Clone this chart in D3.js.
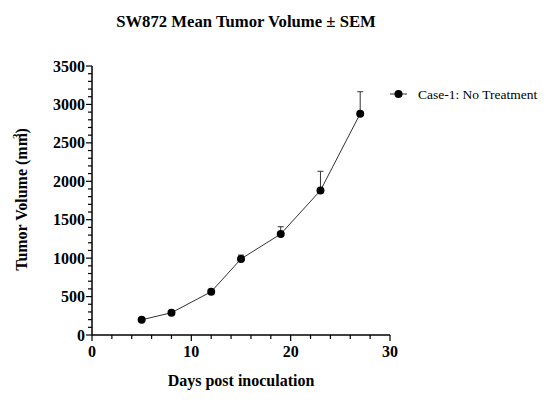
<!DOCTYPE html>
<html>
<head>
<meta charset="utf-8">
<script src="https://cdn.jsdelivr.net/npm/d3@7"></script>
<style>
  body { margin: 0; background: #fff; }
</style>
</head>
<body>
<div id="chart"></div>
<script>
// data
const days = [5, 8, 12, 15, 19, 23, 27];
const meanVolume = [198, 290, 563, 990, 1314, 1880, 2880];
const sem = [12, 15, 20, 50, 95, 250, 285];
const seriesName = "Case-1: No Treatment";
const xTicks = [0, 10, 20, 30];
const yTicks = [0, 500, 1000, 1500, 2000, 2500, 3000, 3500];

const width = 547, height = 417;
const marginLeft = 92, marginTop = 66, plotW = 298, plotH = 269;
const serif = '"Liberation Serif"';

const svg = d3.select("#chart").append("svg")
    .attr("width", width)
    .attr("height", height);

const x = d3.scaleLinear().domain([0, 30]).range([marginLeft, marginLeft + plotW]);
const y = d3.scaleLinear().domain([0, 3500]).range([marginTop + plotH, marginTop]);

// Title
svg.append("text")
    .attr("x", 246).attr("y", 27)
    .attr("text-anchor", "middle")
    .style("font-family", serif)
    .attr("font-size", 16.7).attr("font-weight", "bold")
    .text("SW872 Mean Tumor Volume ± SEM");

// X axis: majors every 10, minors every 2
const gx = svg.append("g").attr("transform", `translate(0,${y(0)})`);
gx.append("line").attr("x1", x(0)).attr("x2", x(30)).attr("stroke", "#000").attr("stroke-width", 1.5);
gx.selectAll(".minor").data(d3.range(0, 31, 2)).join("line")
    .attr("x1", d => x(d)).attr("x2", d => x(d))
    .attr("y1", 0).attr("y2", d => d % 10 === 0 ? 6 : 4)
    .attr("stroke", "#000").attr("stroke-width", 1.2);
gx.selectAll("text").data(xTicks).join("text")
    .attr("x", d => x(d)).attr("y", 22)
    .attr("text-anchor", "middle")
    .style("font-family", serif)
    .attr("font-size", 16).attr("font-weight", "bold")
    .text(d => d);

// Y axis: majors every 500, minors every 100
const gy = svg.append("g").attr("transform", `translate(${x(0)},0)`);
gy.append("line").attr("y1", y(0)).attr("y2", y(3500)).attr("stroke", "#000").attr("stroke-width", 1.5);
gy.selectAll(".minor").data(d3.range(0, 3501, 100)).join("line")
    .attr("y1", d => y(d)).attr("y2", d => y(d))
    .attr("x1", 0).attr("x2", d => d % 500 === 0 ? -6 : -4)
    .attr("stroke", "#000").attr("stroke-width", 1.2);
gy.selectAll("text").data(yTicks).join("text")
    .attr("x", -7).attr("y", d => y(d))
    .attr("dy", "0.35em")
    .attr("text-anchor", "end")
    .style("font-family", serif)
    .attr("font-size", 16).attr("font-weight", "bold")
    .text(d => d);

// Axis titles
svg.append("text")
    .attr("x", 241).attr("y", 386)
    .attr("text-anchor", "middle")
    .style("font-family", serif)
    .attr("font-size", 16).attr("font-weight", "bold")
    .text("Days post inoculation");

const yl = svg.append("text")
    .attr("transform", `translate(27,${y(1750) - 1}) rotate(-90)`)
    .attr("text-anchor", "middle")
    .style("font-family", serif)
    .attr("font-size", 16).attr("font-weight", "bold");
yl.append("tspan").text("Tumor Volume (mm");
yl.append("tspan").attr("dy", -7).attr("dx", -6).attr("font-size", 11).text("3");
yl.append("tspan").attr("dy", 7).text(")");

// Error bars (upper only)
const pts = days.map((d, i) => ({ day: d, mean: meanVolume[i], sem: sem[i] }));
const gErr = svg.append("g").attr("stroke", "#333").attr("stroke-width", 1);
gErr.selectAll(".v").data(pts).join("line")
    .attr("x1", d => x(d.day)).attr("x2", d => x(d.day))
    .attr("y1", d => y(d.mean)).attr("y2", d => y(d.mean + d.sem));
gErr.selectAll(".c").data(pts).join("line")
    .attr("x1", d => x(d.day) - 3).attr("x2", d => x(d.day) + 3)
    .attr("y1", d => y(d.mean + d.sem)).attr("y2", d => y(d.mean + d.sem));

// Line and markers
svg.append("path")
    .datum(pts)
    .attr("fill", "none").attr("stroke", "#333").attr("stroke-width", 1)
    .attr("d", d3.line().x(d => x(d.day)).y(d => y(d.mean)));
svg.append("g").selectAll("circle").data(pts).join("circle")
    .attr("cx", d => x(d.day)).attr("cy", d => y(d.mean))
    .attr("r", 4).attr("fill", "#000");

// Legend
const lg = svg.append("g").attr("transform", "translate(390,94)");
lg.append("line").attr("x1", 0).attr("x2", 17).attr("stroke", "#333").attr("stroke-width", 1);
lg.append("circle").attr("cx", 8.5).attr("cy", 0).attr("r", 4).attr("fill", "#000");
lg.append("text").attr("x", 28).attr("dy", "0.35em")
    .style("font-family", serif)
    .attr("font-size", 13.5).text(seriesName);
</script>
</body>
</html>
